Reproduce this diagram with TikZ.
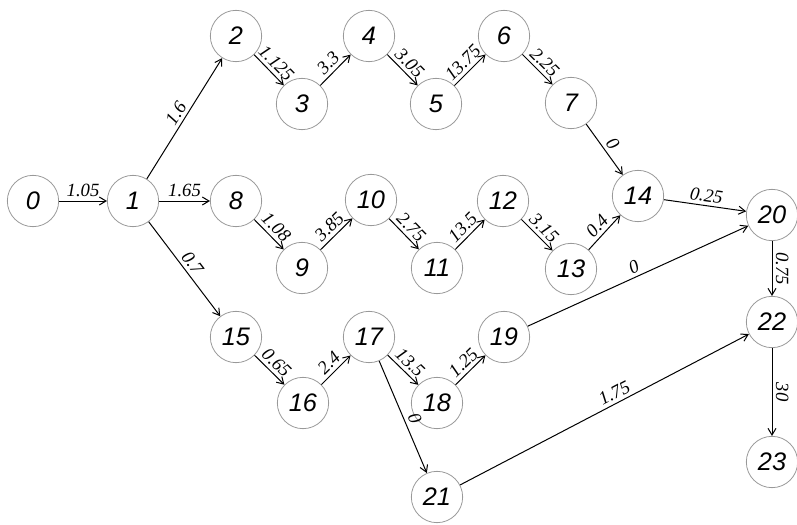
\documentclass[tikz,border=0pt]{standalone}
\usepackage{fontspec}
\setmainfont{Liberation Serif}
\newfontfamily\eventfont{Liberation Sans}
\usetikzlibrary{arrows.meta}

\begin{document}
\begin{tikzpicture}[x=0.75pt,y=-0.75pt,
  ev/.style={circle,draw=black!40,line width=0.6pt,minimum size=38.5pt,inner sep=0pt,
             font=\eventfont\itshape\fontsize{19}{19}\selectfont},
  act/.style={-{Straight Barb[length=5pt,width=6pt]},line width=0.75pt},
  w/.style={sloped,above,inner sep=2.5pt,font=\itshape\fontsize{14}{14}\selectfont}]
\useasboundingbox (0,0) rectangle (797,525);

% events
\node[ev] (n0)  at (33,201)  {0};
\node[ev] (n1)  at (133,201) {1};
\node[ev] (n2)  at (236,36)  {2};
\node[ev] (n3)  at (302,104) {3};
\node[ev] (n4)  at (369,36)  {4};
\node[ev] (n5)  at (436,104) {5};
\node[ev] (n6)  at (504,36)  {6};
\node[ev] (n7)  at (571,103) {7};
\node[ev] (n8)  at (236,201) {8};
\node[ev] (n9)  at (302,268) {9};
\node[ev] (n10) at (371,200) {10};
\node[ev] (n11) at (437,268) {11};
\node[ev] (n12) at (503,201) {12};
\node[ev] (n13) at (571,269) {13};
\node[ev] (n14) at (638,196) {14};
\node[ev] (n15) at (236,337) {15};
\node[ev] (n16) at (303,403) {16};
\node[ev] (n17) at (369,337) {17};
\node[ev] (n18) at (437,403) {18};
\node[ev] (n19) at (504,337) {19};
\node[ev] (n20) at (772,215) {20};
\node[ev] (n21) at (437,497) {21};
\node[ev] (n22) at (772,322) {22};
\node[ev] (n23) at (772,462) {23};

% activities
\draw[act] (n0)  -- node[w]{1.05}  (n1);
\draw[act] (n1)  -- node[w]{1.6}   (n2);
\draw[act] (n1)  -- node[w]{1.65}  (n8);
\draw[act] (n1)  -- node[w]{0.7}   (n15);
\draw[act] (n2)  -- node[w]{1.125} (n3);
\draw[act] (n3)  -- node[w]{3.3}   (n4);
\draw[act] (n4)  -- node[w]{3.05}  (n5);
\draw[act] (n5)  -- node[w]{13.75} (n6);
\draw[act] (n6)  -- node[w]{2.25}  (n7);
\draw[act] (n7)  -- node[w]{0}     (n14);
\draw[act] (n8)  -- node[w]{1.08}  (n9);
\draw[act] (n9)  -- node[w]{3.85}  (n10);
\draw[act] (n10) -- node[w]{2.75}  (n11);
\draw[act] (n11) -- node[w]{13.5}  (n12);
\draw[act] (n12) -- node[w]{3.15}  (n13);
\draw[act] (n13) -- node[w]{0.4}   (n14);
\draw[act] (n14) -- node[w]{0.25}  (n20);
\draw[act] (n15) -- node[w]{0.65}  (n16);
\draw[act] (n16) -- node[w]{2.4}   (n17);
\draw[act] (n17) -- node[w]{13.5}  (n18);
\draw[act] (n18) -- node[w]{1.25}  (n19);
\draw[act] (n17) -- node[w,pos=0.55]{0} (n21);
\draw[act] (n19) -- node[w]{0}     (n20);
\draw[act] (n21) -- node[w,pos=0.55]{1.75} (n22);
\draw[act] (n20) -- node[w]{0.75}  (n22);
\draw[act] (n22) -- node[w]{30}    (n23);
\end{tikzpicture}
\end{document}
